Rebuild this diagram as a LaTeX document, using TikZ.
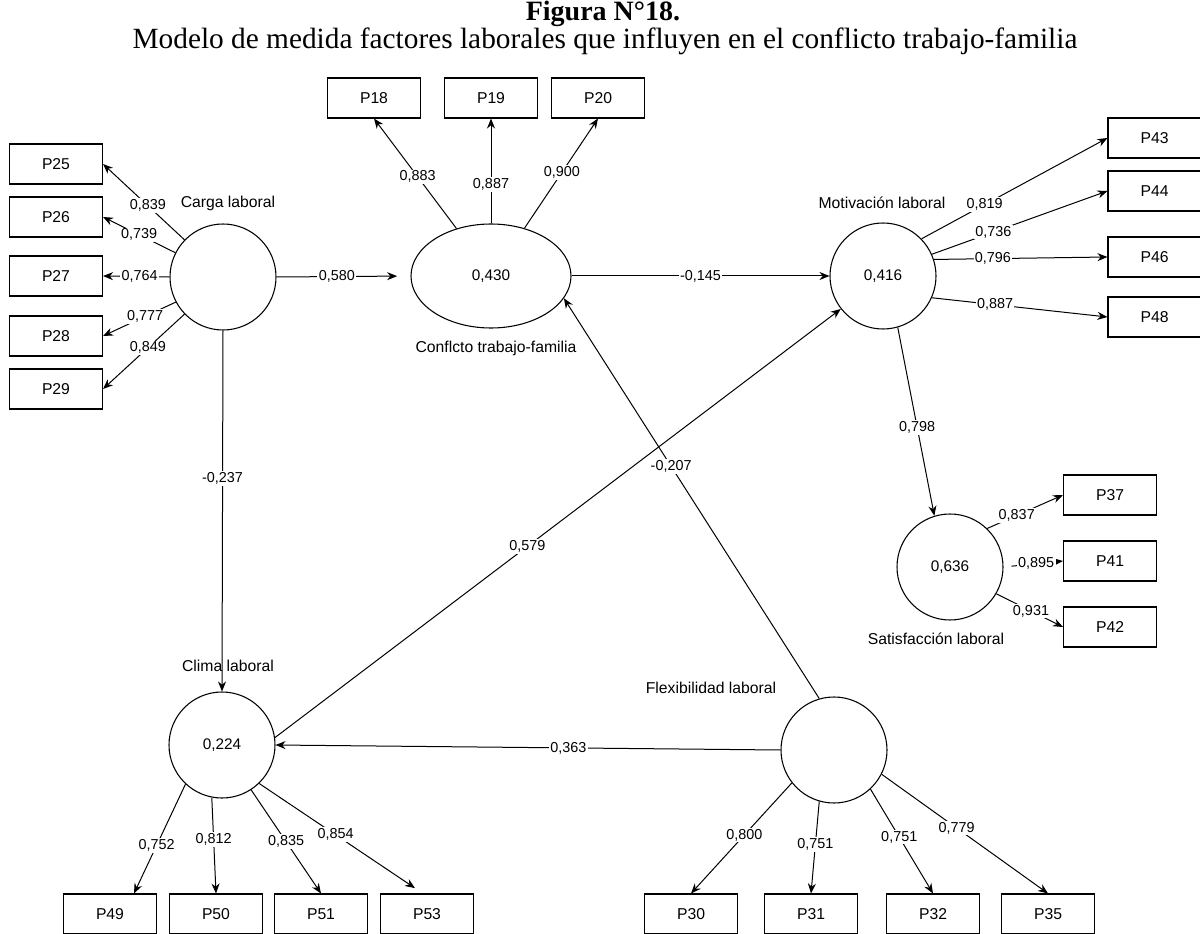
\documentclass[tikz,border=0pt]{standalone}
\usepackage{fontspec}
\setmainfont{Liberation Serif}
\newfontfamily\diagfont{Liberation Sans}
\usetikzlibrary{arrows.meta,shapes.geometric}

\begin{document}
\begin{tikzpicture}[x=0.75pt,y=-0.75pt,
  indic/.style={draw,line width=0.8pt,minimum width=69.75pt,minimum height=30pt,inner sep=0pt,
    font=\diagfont\fontsize{11.8}{12}\selectfont},
  latent/.style={draw,circle,line width=0.8pt,minimum size=79.5pt,inner sep=0pt,
    font=\diagfont\fontsize{11.5}{12}\selectfont},
  oval/.style={draw,ellipse,line width=0.8pt,minimum width=120pt,minimum height=78pt,inner sep=0pt,
    font=\diagfont\fontsize{11.5}{12}\selectfont},
  cname/.style={inner sep=0pt,font=\diagfont\fontsize{11.8}{12}\selectfont},
  link/.style={line width=0.75pt,-{Stealth[length=7.5pt,width=6pt]}},
  coef/.style={fill=white,inner sep=1pt,font=\diagfont\fontsize{10.8}{11}\selectfont},
  caption/.style={inner sep=0pt,anchor=base,font=\fontsize{22}{24}\selectfont},
]
\useasboundingbox[fill=white] (0,0) rectangle (1200,934);

% caption
\node[caption,font=\bfseries\fontsize{21}{24}\selectfont] (fig) at (603,21) {Figura N°18.};
\node[caption] (cap) at (605,49)
  {Modelo de medida factores laborales que influyen en el conflicto trabajo-familia};

% latent constructs
\node[latent] (carga) at (223,277) {};
\node[oval]   (conf)  at (491,276) {0,430};
\node[latent] (motiv) at (883,276) {0,416};
\node[latent] (satis) at (950,567) {0,636};
\node[latent] (clima) at (222,745) {0,224};
\node[latent] (flex)  at (834,750) {};

\node[cname] (ncarga) at (228,203) {Carga laboral};
\node[cname] (nconf)  at (496,348) {Conflcto trabajo-familia};
\node[cname] (nmotiv) at (882,203) {Motivación laboral};
\node[cname] (nsatis) at (936,639) {Satisfacción laboral};
\node[cname] (nclima) at (228,666) {Clima laboral};
\node[cname] (nflex)  at (711,688) {Flexibilidad laboral};

% indicators
\node[indic] (p25) at (56,164) {P25};
\node[indic] (p26) at (56,217) {P26};
\node[indic] (p27) at (56,276) {P27};
\node[indic] (p28) at (56,336) {P28};
\node[indic] (p29) at (56,389) {P29};

\node[indic] (p18) at (374,98) {P18};
\node[indic] (p19) at (491,98) {P19};
\node[indic] (p20) at (598,98) {P20};

\node[indic] (p43) at (1154.5,138) {P43};
\node[indic] (p44) at (1154.5,191) {P44};
\node[indic] (p46) at (1154.5,257) {P46};
\node[indic] (p48) at (1154.5,317) {P48};

\node[indic] (p37) at (1110,495) {P37};
\node[indic] (p41) at (1110,561) {P41};
\node[indic] (p42) at (1110,627) {P42};

\node[indic] (p49) at (110,914) {P49};
\node[indic] (p50) at (216,914) {P50};
\node[indic] (p51) at (321,914) {P51};
\node[indic] (p53) at (427,914) {P53};
\node[indic] (p30) at (691,914) {P30};
\node[indic] (p31) at (811,914) {P31};
\node[indic] (p32) at (933,914) {P32};
\node[indic] (p35) at (1048,914) {P35};

% structural paths
\draw[link,shorten >=10pt] (carga.east) -- node[coef,pos=.45]{0,580} (conf.west);
\draw[link] (conf.east) -- node[coef,pos=.5]{-0,145} (motiv.west);
\draw[link] (carga.south) -- node[coef,pos=.41]{-0,237} (clima.north);
\draw[link] (clima.8) -- node[coef,pos=.446]{0,579} (motiv.218);
\draw[link] (flex.west) -- node[coef,pos=.42]{0,363} (clima.east);
\draw[link] (flex.106) -- node[coef,pos=.58]{-0,207} (conf.343);
\draw[link] (motiv.286) -- node[coef,pos=.53]{0,798} (satis.107);

% loadings: Carga laboral
\draw[link] (carga.136) -- node[coef,pos=.45]{0,839} (p25.east);
\draw[link] (carga.153) -- node[coef,pos=.5]{0,739} (p26.east);
\draw[link] (carga.west) -- node[coef,pos=.45]{0,764} (p27.east);
\draw[link] (carga.208) -- node[coef,pos=.42]{0,777} (p28.east);
\draw[link] (carga.224) -- node[coef,pos=.45]{0,849} (p29.east);

% loadings: Conflicto trabajo-familia
\draw[link] (conf.126) -- node[coef,pos=.47]{0,883} (p18.south);
\draw[link] (conf.north) -- node[coef,pos=.37]{0,887} (p19.south);
\draw[link] (conf.55) -- node[coef,pos=.51]{0,900} (p20.south);

% loadings: Motivación laboral
\draw[link] (motiv.44) -- node[coef,pos=.34]{0,819} (p43.west);
\draw[link] (motiv.24) -- node[coef,pos=.35]{0,736} (p44.west);
\draw[link] (motiv.18) -- node[coef,pos=.34]{0,796} (p46.west);
\draw[link] (motiv.336) -- node[coef,pos=.36]{0,887} (p48.west);

% loadings: Satisfacción laboral
\draw[link] (satis.46) -- node[coef,pos=.39]{0,837} (p37.west);
\draw[link,shorten <=6pt] (satis.east) -- node[coef,pos=.55]{0,895} (p41.west);
\draw[link] (satis.330) -- node[coef,pos=.52]{0,931} (p42.west);

% loadings: Clima laboral
\draw[link] (clima.227) -- node[coef,pos=.56]{0,752} ([xshift=18pt]p49.north);
\draw[link] (clima.259) -- node[coef,pos=.44]{0,812} (p50.north);
\draw[link] (clima.303) -- node[coef,pos=.5]{0,835} (p51.north);
\draw[link] (clima.314) -- node[coef,pos=.49]{0,854} ([xshift=-9pt,yshift=4pt]p53.north);

% loadings: Flexibilidad laboral
\draw[link] (flex.218) -- node[coef,pos=.47]{0,800} (p30.north);
\draw[link] (flex.254) -- node[coef,pos=.47]{0,751} (p31.north);
\draw[link] (flex.313) -- node[coef,pos=.46]{0,751} (p32.north);
\draw[link] (flex.333) -- node[coef,pos=.45]{0,779} (p35.north);
\end{tikzpicture}
\end{document}
